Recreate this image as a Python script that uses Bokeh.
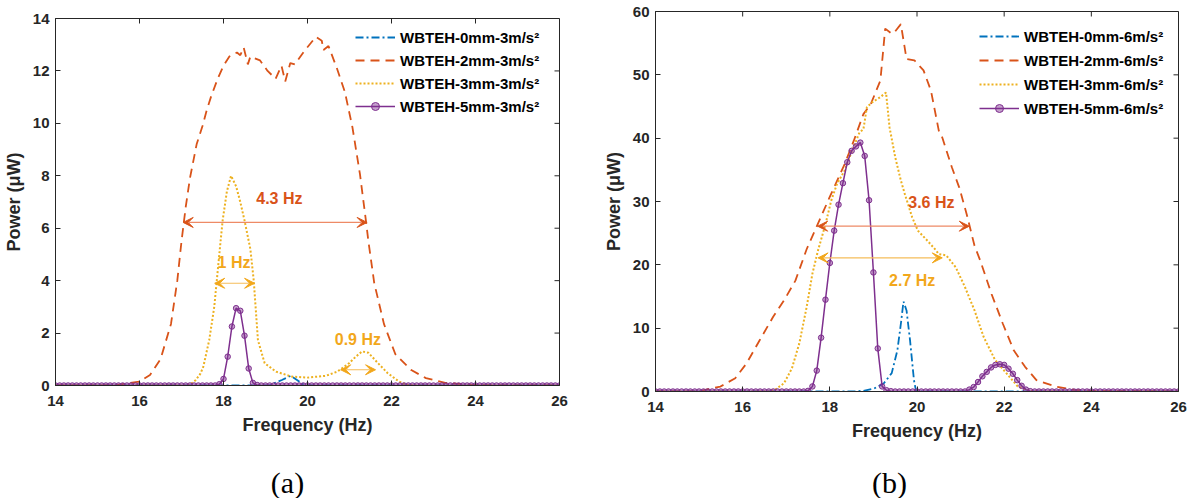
import math
from bokeh.plotting import figure
from bokeh.layouts import row, column
from bokeh.models import (Legend, LegendItem, Range1d, Arrow, VeeHead, Label,
                          FixedTicker)
from bokeh.embed import file_html
from bokeh.resources import INLINE

# ---------------- data ----------------
x_ticks = [14, 16, 18, 20, 22, 24, 26]
y_ticks_a = [0, 2, 4, 6, 8, 10, 12, 14]
y_ticks_b = [0, 10, 20, 30, 40, 50, 60]

# common 0.1 Hz sweep (marker series)
freq_sweep = [round(14 + 0.1 * i, 1) for i in range(121)]

# ----- (a) 3 m/s^2 -----
a0_f = [14, 19.1, 19.21, 19.39, 19.6, 19.75, 19.89, 20.0, 26]
a0_p = [0, 0, 0.09, 0.21, 0.37, 0.21, 0.05, 0, 0]

a2_f = [14.0, 15.0, 15.5, 16.0, 16.25, 16.5, 16.75, 16.9, 17.0, 17.1, 17.2, 17.36,
        17.5, 17.6, 17.7, 17.86, 18.0, 18.14, 18.32, 18.4, 18.48, 18.58, 18.64,
        18.87, 19.05, 19.24, 19.38, 19.47, 19.59, 19.7, 19.92, 20.2, 20.34, 20.38,
        20.5, 20.7, 20.89, 21.07, 21.25, 21.39, 21.45, 21.59, 21.82, 22.09, 22.46,
        22.82, 23.28, 23.9, 24.5, 26.0]
a2_p = [0, 0, 0.03, 0.15, 0.4, 1.0, 2.35, 4.0, 5.5, 6.8, 7.9, 9.2,
        9.9, 10.5, 11.0, 11.7, 12.2, 12.55, 12.7, 12.6, 12.9, 12.25, 12.55,
        12.4, 12.0, 11.7, 12.2, 11.6, 12.3, 12.25, 12.75, 13.3, 13.15, 12.8,
        12.95, 12.1, 11.2, 9.85, 8.05, 6.3, 5.5, 3.9, 2.35, 1.2, 0.6,
        0.28, 0.1, 0.03, 0, 0]

a3_f = [14, 17.1, 17.25, 17.34, 17.45, 17.52, 17.66, 17.78, 17.84, 17.93, 17.98,
        18.08, 18.18, 18.3, 18.4, 18.5, 18.64, 18.72, 18.82, 18.98, 19.25, 19.62,
        19.99, 20.44, 20.71, 20.99, 21.15, 21.3, 21.45, 21.68, 21.91, 22.18, 22.36,
        22.6, 26]
a3_p = [0, 0, 0.09, 0.21, 0.45, 0.72, 1.73, 3.0, 4.0, 5.5, 6.3,
        7.4, 8.0, 7.6, 7.0, 6.3, 5.2, 4.0, 1.73, 0.85, 0.53, 0.34,
        0.3, 0.37, 0.53, 0.85, 1.1, 1.3, 1.25, 0.85, 0.47, 0.15, 0.03,
        0, 0]

a5_p = ([0.0] * 39 +
        [0.05, 0.25, 1.1, 2.25, 2.95, 2.85, 1.9, 0.65, 0.1, 0.02] +
        [0.0] * 72)

# ----- (b) 6 m/s^2 -----
b0_f = [14, 18.5, 18.77, 19.03, 19.24, 19.42, 19.55, 19.63, 19.69, 19.76, 19.84,
        19.93, 19.98, 26]
b0_p = [0, 0, 0.1, 0.52, 1.3, 2.9, 6.5, 10.7, 14.2, 12.8, 8.1, 1.8, 0, 0]

b2_f = [14, 15.0, 15.14, 15.49, 15.83, 16.09, 16.39, 16.7, 16.95, 17.21, 17.47,
        17.69, 17.99, 18.34, 18.55, 18.77, 18.94, 19.16, 19.27, 19.42, 19.48,
        19.63, 19.76, 19.94, 20.15, 20.32, 20.5, 20.58, 20.8, 20.97, 21.14, 21.32,
        21.45, 21.71, 21.97, 22.22, 22.48, 22.74, 23.17, 23.6, 24.04, 26]
b2_p = [0, 0, 0.26, 0.78, 2.1, 4.45, 8.1, 11.8, 14.4, 17.5, 22.5,
        25.9, 30.6, 35.9, 39.6, 43.8, 45.4, 49.1, 57.3, 56.5, 56.7,
        58.0, 52.5, 52.3, 50.7, 47.5, 41.2, 40.1, 35.4, 32.2, 28.0, 23.0,
        20.7, 15.4, 10.7, 6.5, 3.9, 1.8, 0.8, 0.26, 0.1, 0]

b3_f = [14, 16.6, 16.74, 16.95, 17.13, 17.3, 17.47, 17.6, 17.73, 17.9, 18.03,
        18.16, 18.34, 18.51, 18.68, 18.77, 18.85, 18.98, 19.16, 19.29, 19.37,
        19.5, 19.63, 19.72, 19.89, 20.02, 20.24, 20.41, 20.5, 20.67, 20.89, 21.1,
        21.32, 21.53, 21.79, 22.05, 22.31, 22.57, 22.8, 26]
b3_p = [0, 0, 0.26, 1.3, 3.66, 7.6, 13.4, 18.6, 22.3, 26.4, 30.1,
        32.7, 34.9, 38.0, 40.9, 41.4, 44.9, 45.7, 46.5, 47.2, 41.7,
        37.0, 33.3, 31.2, 27.5, 25.4, 23.8, 22.5, 21.7, 21.5, 19.6, 16.5,
        12.8, 8.6, 5.0, 2.9, 0.8, 0.16, 0, 0]

b5_p = ([0.0] * 35 +
        [0.1, 0.8, 3.3, 8.5, 14.5, 20.3, 25.4, 29.5, 32.9, 36.2, 38.0, 38.7,
         39.3, 37.2, 30.2, 18.8, 6.8, 0.8, 0.2, 0.05] +
        [0.0] * 17 +
        [0.3, 0.7, 1.5, 2.4, 3.1, 3.8, 4.2, 4.3, 4.2, 3.6, 2.8, 1.8, 0.9, 0.3, 0.05] +
        [0.0] * 34)

labels_a = ["WBTEH-0mm-3m/s\u00b2", "WBTEH-2mm-3m/s\u00b2",
            "WBTEH-3mm-3m/s\u00b2", "WBTEH-5mm-3m/s\u00b2"]
labels_b = ["WBTEH-0mm-6m/s\u00b2", "WBTEH-2mm-6m/s\u00b2",
            "WBTEH-3mm-6m/s\u00b2", "WBTEH-5mm-6m/s\u00b2"]

# bandwidth annotations: (x_start, x_end, y, text, text_x, text_y, kind)
bw_a = [(17.04, 21.42, 6.22, "4.3 Hz", 19.33, 7.14, "o"),
        (17.79, 18.74, 3.9, "1 Hz", 18.25, 4.7, "y"),
        (20.79, 21.62, 0.6, "0.9 Hz", 21.2, 1.75, "y")]
bw_b = [(17.72, 21.2, 26.1, "3.6 Hz", 20.33, 29.8, "o"),
        (17.73, 20.58, 21.1, "2.7 Hz", 19.89, 17.5, "y")]

# ---------------- style ----------------
C_BLUE = "#0072BD"
C_ORANGE = "#D95319"
C_YELLOW = "#EDB120"
C_PURPLE = "#7E2F8E"
TXT = "#262626"
FONT = "Liberation Sans"
ANN = {"o": ("#D95319", "#EE8A66"), "y": ("#F2A71B", "#F5BD5A")}
PLOT_H = 460
CAP_H = 38


def make_panel(width, borders, ymax, yticks, f0, p0, f2, p2, f3, p3, p5,
               labels, bw, legend_xy, legend_spacing):
    left, right, top, bottom = borders
    p = figure(width=width, height=PLOT_H, output_backend="svg",
               toolbar_location=None, frame_align=False,
               x_range=Range1d(14, 26), y_range=Range1d(0, ymax),
               min_border_left=left, min_border_right=right,
               min_border_top=top, min_border_bottom=bottom)
    p.grid.visible = False
    p.outline_line_color = TXT
    p.outline_line_width = 1
    p.background_fill_color = "white"
    p.border_fill_color = "white"

    p.xaxis.ticker = FixedTicker(ticks=x_ticks)
    p.yaxis.ticker = FixedTicker(ticks=yticks)
    p.xaxis.axis_label = "Frequency (Hz)"
    p.yaxis.axis_label = "Power (\u03bcW)"
    for ax in (p.xaxis[0], p.yaxis[0]):
        ax.axis_line_color = TXT
        ax.major_tick_line_color = TXT
        ax.major_tick_in = 5
        ax.major_tick_out = 0
        ax.minor_tick_line_color = None
        ax.major_label_text_font = FONT
        ax.major_label_text_font_style = "bold"
        ax.major_label_text_font_size = "15px"
        ax.major_label_text_color = TXT
        ax.axis_label_text_font = FONT
        ax.axis_label_text_font_style = "bold"
        ax.axis_label_text_font_size = "18px"
        ax.axis_label_text_color = TXT
    p.xaxis.major_label_standoff = 10
    p.xaxis.axis_label_standoff = 6
    p.yaxis.major_label_standoff = 6
    p.yaxis.axis_label_standoff = 6

    # inward ticks on the top and right edges of the box
    p.ray(x=x_ticks, y=[ymax] * len(x_ticks), length=5, length_units="screen",
          angle=-math.pi / 2, line_color=TXT, line_width=1)
    p.ray(x=[26] * len(yticks), y=yticks, length=5, length_units="screen",
          angle=math.pi, line_color=TXT, line_width=1)

    r0 = p.line(f0, p0, line_color=C_BLUE, line_width=1.8, line_dash="8 3 2 3")
    r2 = p.line(f2, p2, line_color=C_ORANGE, line_width=1.8, line_dash="9 6")
    r3 = p.line(f3, p3, line_color=C_YELLOW, line_width=2, line_dash="2 2")
    r5 = p.line(freq_sweep, p5, line_color=C_PURPLE, line_width=1.5)
    r5m = p.scatter(freq_sweep, p5, marker="circle", size=5.5, line_color=C_PURPLE,
                    line_width=1, fill_color=C_PURPLE, fill_alpha=0.45)

    for xs, xe, yy, txt, tx, ty, kind in bw:
        tc, lc = ANN[kind]
        p.add_layout(Arrow(x_start=xs, y_start=yy, x_end=xe, y_end=yy,
                           line_color=lc, line_width=1.2,
                           start=VeeHead(size=10, fill_color=tc, line_color=tc),
                           end=VeeHead(size=10, fill_color=tc, line_color=tc)))
        p.add_layout(Label(x=tx, y=ty, text=txt, text_align="center",
                           text_baseline="middle", text_font=FONT,
                           text_font_style="bold", text_font_size="16px",
                           text_color=tc))

    legend = Legend(items=[LegendItem(label=labels[0], renderers=[r0]),
                           LegendItem(label=labels[1], renderers=[r2]),
                           LegendItem(label=labels[2], renderers=[r3]),
                           LegendItem(label=labels[3], renderers=[r5, r5m])],
                    location=legend_xy, padding=0, margin=0,
                    spacing=legend_spacing, glyph_width=40, glyph_height=20,
                    label_height=20, label_standoff=5,
                    label_text_font=FONT, label_text_font_style="bold",
                    label_text_font_size="15px", label_text_color="black",
                    border_line_color=None, background_fill_alpha=0)
    p.add_layout(legend)
    return p


def make_caption(width, caption, cx):
    c = figure(width=width, height=CAP_H, output_backend="svg",
               toolbar_location=None, x_axis_location=None,
               y_axis_location=None, x_range=Range1d(0, 1),
               y_range=Range1d(0, 1), min_border=0, frame_align=False)
    c.grid.visible = False
    c.outline_line_color = None
    c.add_layout(Label(x=cx, y=16, x_units="screen", y_units="screen",
                       text=caption, text_align="center", text_baseline="middle",
                       text_font="Liberation Serif", text_font_size="30px",
                       text_color="black"))
    return c


pa = make_panel(600, (55, 41, 18, PLOT_H - 385), 14, y_ticks_a,
                a0_f, a0_p, a2_f, a2_p, a3_f, a3_p, a5_p,
                labels_a, bw_a, (300, 269), 3)
pb = make_panel(595, (51, 17, 11, PLOT_H - 391), 60, y_ticks_b,
                b0_f, b0_p, b2_f, b2_p, b3_f, b3_p, b5_p,
                labels_b, bw_b, (324, 273), 4)
ca = make_caption(600, "(a)", 287)
cb = make_caption(595, "(b)", 289)

layout = column(row(pa, pb), row(ca, cb))
open("out.html", "w").write(file_html(layout, INLINE))
